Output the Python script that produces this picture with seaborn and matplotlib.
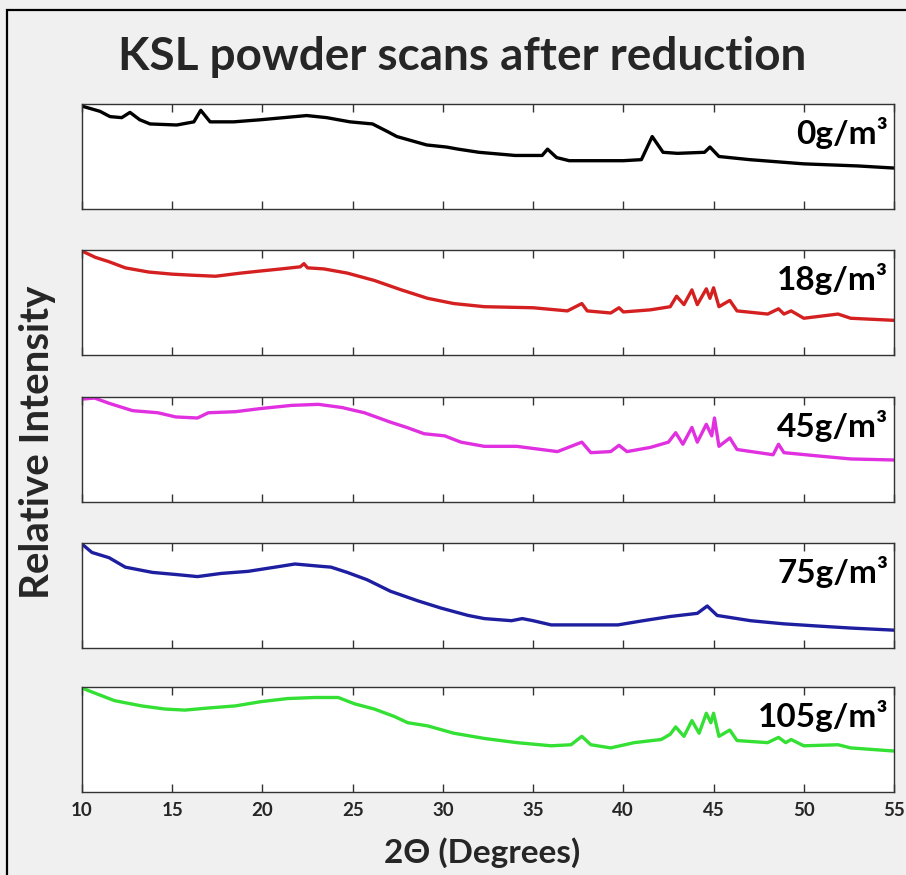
import numpy as np
import pandas as pd
import seaborn as sns
import matplotlib
matplotlib.use("Agg")
import matplotlib.pyplot as plt
from matplotlib.patches import Rectangle

# ---------------- data (relative intensity, 0 = panel bottom, 1 = panel top) -------------
x_0 = [10, 11, 11.55, 12.2, 12.66, 13.2, 13.77, 15.25, 16.2, 16.58, 17.1, 18.4, 19.9, 22.45,
       23.56, 24.85, 26.1, 26.9, 27.45, 29.1, 30.2, 30.85, 32, 34, 35.5, 35.8, 36.3, 37, 40,
       41.0, 41.6, 42.2, 43, 44.5, 44.8, 45.3, 47, 50, 53, 55]
y_0 = [0.98, 0.93, 0.88, 0.87, 0.92, 0.85, 0.81, 0.80, 0.83, 0.94, 0.83, 0.83, 0.85, 0.89,
       0.87, 0.83, 0.81, 0.74, 0.69, 0.61, 0.59, 0.57, 0.54, 0.51, 0.51, 0.57, 0.49, 0.46, 0.46,
       0.47, 0.69, 0.54, 0.53, 0.54, 0.59, 0.50, 0.47, 0.43, 0.41, 0.39]

x_18 = [10, 10.74, 11.47, 12.4, 13.7, 15.0, 16.1, 17.4, 18.8, 19.9, 21.05, 22.1, 22.3, 22.5,
        23.4, 24.7, 26.2, 27.7, 29.15, 30.6, 32.3, 35, 36.9, 37.7, 38.0, 39.3, 39.76, 40.0,
        41.5, 42.6, 42.95, 43.36, 43.8, 44.1, 44.6, 44.8, 45.0, 45.3, 45.9, 46.3, 48.0, 48.6,
        48.9, 49.3, 50.0, 51.9, 52.6, 55]
y_18 = [0.99, 0.93, 0.89, 0.83, 0.79, 0.77, 0.76, 0.75, 0.78, 0.80, 0.82, 0.84, 0.87, 0.83,
        0.82, 0.78, 0.71, 0.62, 0.54, 0.49, 0.46, 0.45, 0.42, 0.49, 0.42, 0.40, 0.45, 0.41,
        0.43, 0.46, 0.56, 0.48, 0.62, 0.48, 0.63, 0.54, 0.64, 0.46, 0.52, 0.42, 0.39, 0.44,
        0.39, 0.42, 0.35, 0.39, 0.35, 0.33]

x_45 = [10, 10.7, 11.5, 12.8, 14.2, 15.2, 16.4, 17.0, 18.5, 19.9, 21.6, 23.1, 24.4, 25.65,
        27.1, 28.0, 28.96, 30.1, 31.0, 32.3, 34.1, 36.35, 37.7, 38.2, 39.3, 39.76, 40.2, 41.5,
        42.5, 42.9, 43.3, 43.8, 44.1, 44.6, 44.9, 45.05, 45.3, 45.9, 46.3, 48.3, 48.6, 48.9,
        50.7, 52.6, 55]
y_45 = [0.98, 0.99, 0.94, 0.87, 0.85, 0.81, 0.80, 0.85, 0.86, 0.89, 0.92, 0.93, 0.90, 0.85,
        0.76, 0.71, 0.65, 0.63, 0.57, 0.53, 0.53, 0.48, 0.57, 0.47, 0.48, 0.54, 0.48, 0.52,
        0.57, 0.66, 0.55, 0.71, 0.57, 0.74, 0.63, 0.80, 0.53, 0.61, 0.50, 0.45, 0.55, 0.47,
        0.44, 0.41, 0.40]

x_75 = [10, 10.55, 11.5, 12.4, 13.9, 15.2, 16.4, 17.7, 19.2, 20.7, 21.8, 23.1, 23.8, 24.7,
        25.8, 27.1, 28.6, 29.9, 31.4, 32.3, 33.8, 34.4, 35, 36.0, 37.8, 39.7, 41.1, 42.6, 44.1,
        44.65, 45.2, 47.05, 48.9, 50.7, 52.6, 55]
y_75 = [0.99, 0.91, 0.86, 0.77, 0.72, 0.70, 0.68, 0.71, 0.73, 0.77, 0.80, 0.78, 0.77, 0.72,
        0.65, 0.54, 0.45, 0.38, 0.31, 0.28, 0.26, 0.28, 0.26, 0.22, 0.22, 0.22, 0.26, 0.30, 0.33,
        0.40, 0.31, 0.26, 0.23, 0.21, 0.19, 0.17]

x_105 = [10, 10.74, 11.8, 13.3, 14.6, 15.7, 17.0, 18.5, 19.9, 21.4, 22.9, 24.2, 25.1, 26.2,
         27.3, 28.05, 29.15, 30.6, 32.3, 34.1, 36.0, 37.1, 37.7, 38.2, 39.3, 40.6, 42.1, 42.6,
         42.9, 43.36, 43.8, 44.2, 44.6, 44.85, 45.0, 45.3, 45.9, 46.3, 48.0, 48.6, 49.0, 49.3,
         50.0, 51.9, 52.6, 55]
y_105 = [0.99, 0.94, 0.87, 0.82, 0.79, 0.78, 0.80, 0.82, 0.86, 0.89, 0.90, 0.90, 0.84, 0.79,
         0.72, 0.66, 0.63, 0.56, 0.51, 0.47, 0.44, 0.45, 0.53, 0.45, 0.42, 0.47, 0.50, 0.55,
         0.62, 0.53, 0.68, 0.56, 0.75, 0.66, 0.75, 0.53, 0.59, 0.49, 0.47, 0.52, 0.47, 0.50,
         0.44, 0.45, 0.42, 0.39]

labels = ["0g/m³", "18g/m³", "45g/m³", "75g/m³", "105g/m³"]
xs = [x_0, x_18, x_45, x_75, x_105]
ys = [y_0, y_18, y_45, y_75, y_105]
colors = ["#000000", "#d42020", "#e030e0", "#1e1ea0", "#33e033"]
xticks = [10, 15, 20, 25, 30, 35, 40, 45, 50, 55]

# ---------------- figure -----------------
sns.set_style("white")
FONT = ["Lato", "DejaVu Sans"]
plt.rcParams["font.family"] = FONT

W, H = 906, 875
fig = plt.figure(figsize=(W / 100, H / 100), dpi=100, facecolor="#f0f0f0")

# outer black frame (cut off at right and bottom)
fig.patches.append(Rectangle((7 / W, -0.05), 1.2, 1 - 10 / H + 0.05,
                             transform=fig.transFigure, fill=False,
                             edgecolor="black", linewidth=1.6, zorder=0))

left = 82 / W
width = (894 - 82) / W
tops = [104, 250, 397, 543, 687]
ph = 105

for i, (xv, yv, lab, col) in enumerate(zip(xs, ys, labels, colors)):
    top = tops[i]
    ax = fig.add_axes([left, 1 - (top + ph) / H, width, ph / H])
    ax.set_facecolor("white")
    df = pd.DataFrame({"two_theta": xv, "intensity": yv})
    sns.lineplot(data=df, x="two_theta", y="intensity", ax=ax, color=col,
                 linewidth=2.4, sort=True, estimator=None)
    ax.set_xlim(10, 55)
    ax.set_ylim(0, 1.0)
    ax.set_xticks(xticks)
    ax.set_yticks([])
    ax.set_xlabel("")
    ax.set_ylabel("")
    for s in ax.spines.values():
        s.set_visible(True)
        s.set_color("#333333")
        s.set_linewidth(1.0)
    ax.tick_params(axis="x", direction="in", length=6, width=1, color="#333333",
                   top=True, bottom=True, pad=7)
    if i < 4:
        ax.set_xticklabels([])
    else:
        ax.set_xticklabels([str(t) for t in xticks], fontsize=13.5, fontweight="bold",
                           family=FONT)
    ax.text(0.993, 0.72, lab, transform=ax.transAxes, ha="right", va="center",
            fontsize=24, fontweight="bold", family=FONT, color="black")

fig.text(462 / W, 1 - 57 / H, "KSL powder scans after reduction", ha="center",
         va="center", fontsize=33, fontweight="bold", family=FONT)
fig.text(482 / W, 1 - 853 / H, "2Θ (Degrees)", ha="center", va="center",
         fontsize=24, fontweight="bold", family=FONT)
fig.text(38 / W, 1 - 442 / H, "Relative Intensity", ha="center", va="center",
         rotation=90, fontsize=29, fontweight="bold", family=FONT)

fig.savefig("out.png", dpi=100, facecolor=fig.get_facecolor())
